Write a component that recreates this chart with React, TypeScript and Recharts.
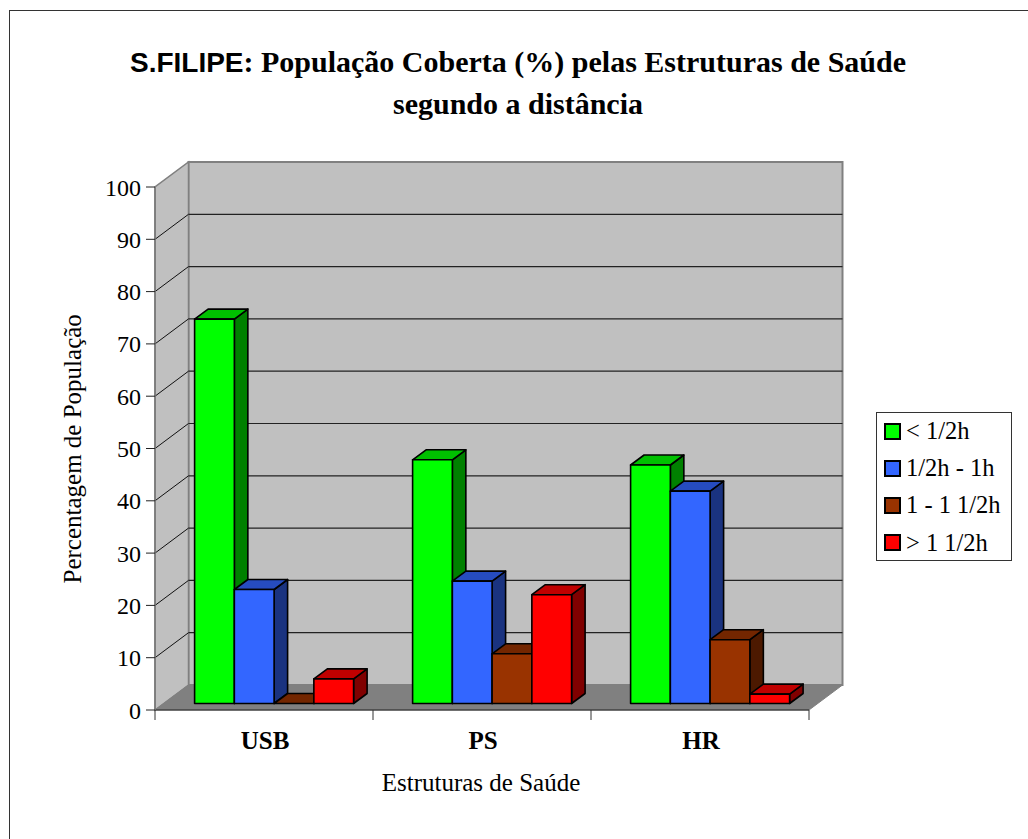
import React from 'react';
import { BarChart, Bar, XAxis, YAxis, CartesianGrid, ReferenceArea, Legend } from 'recharts';

const categories = ['USB', 'PS', 'HR'];
const under30 = [73.5, 46.6, 45.6];
const to1h = [21.8, 23.4, 40.6];
const to90 = [0, 9.5, 12.2];
const over90 = [4.7, 20.8, 1.8];
const yTicks = [0, 10, 20, 30, 40, 50, 60, 70, 80, 90, 100];
const data = categories.map((name, i) => ({
  name, a: under30[i], b: to1h[i], c: to90[i], d: over90[i],
}));

const SERIF = '"Liberation Serif", serif';
const WALL_DX = 33.5;
const WALL_DY = 25;
const BAR_DX = 13.5;
const BAR_DY = 10;
const FRONT_DX = 9.6;
const FRONT_DY = 6.5;

const Bar3D = (p: any) => {
  const { x, y, width, height, fill, sideFill, topFill } = p;
  const l = x + FRONT_DX;
  const r = l + width;
  const t = y - FRONT_DY;
  const b = t + height;
  const common = { stroke: '#000', strokeWidth: 1.6, strokeLinejoin: 'round' as const };
  return (
    <g>
      <polygon points={`${r},${t} ${r + BAR_DX},${t - BAR_DY} ${r + BAR_DX},${b - BAR_DY} ${r},${b}`} fill={sideFill} {...common} />
      <polygon points={`${l},${t} ${l + BAR_DX},${t - BAR_DY} ${r + BAR_DX},${t - BAR_DY} ${r},${t}`} fill={topFill} {...common} />
      <rect x={l} y={t} width={width} height={height} fill={fill} {...common} />
    </g>
  );
};

const Walls = (p: any) => {
  const { x, y, width, height } = p;
  const b = y + height;
  const r = x + width;
  return (
    <g>
      <rect x={x + WALL_DX} y={y - WALL_DY} width={width} height={height} fill="#C0C0C0" stroke="#808080" strokeWidth={2} />
      <polygon points={`${x},${b} ${x},${y} ${x + WALL_DX},${y - WALL_DY} ${x + WALL_DX},${b - WALL_DY}`} fill="#C0C0C0" stroke="#808080" strokeWidth={1.5} />
      <polygon points={`${x},${b} ${r},${b} ${r + WALL_DX},${b - WALL_DY} ${x + WALL_DX},${b - WALL_DY}`} fill="#808080" stroke="#808080" />
    </g>
  );
};

const GridLine = (p: any) => {
  const { x1, x2, y1 } = p;
  if (y1 <= 188 || y1 >= 709) return <g />;
  const yb = y1 - WALL_DY;
  return (
    <g>
      <line x1={x1} y1={y1} x2={x1 + WALL_DX} y2={yb} stroke="#111" strokeWidth={1} />
      <line x1={x1 + WALL_DX} y1={yb} x2={x2 + WALL_DX} y2={yb} stroke="#222" strokeWidth={1.2} />
    </g>
  );
};

const CategoryTick = (p: any) => {
  const { x, y, payload, index } = p;
  const half = 109;
  return (
    <g>
      <line x1={x - half} y1={710} x2={x - half} y2={720} stroke="#333" strokeWidth={1} />
      {index === categories.length - 1 && (
        <line x1={x + half} y1={710} x2={x + half} y2={720} stroke="#333" strokeWidth={1} />
      )}
      <text x={x + 1} y={y + 31} textAnchor="middle" fontFamily={SERIF} fontWeight="bold" fontSize={25} fill="#000">
        {payload.value}
      </text>
    </g>
  );
};

const LegendBox = ({ payload }: any) => (
  <div style={{ width: 134, height: 147, border: '1px solid #333', background: '#fff', position: 'relative', fontFamily: SERIF, fontSize: 24.5, color: '#000' }}>
    {(payload || []).map((e: any, i: number) => (
      <div key={e.value} style={{ position: 'absolute', left: 7, top: 5 + i * 37.2, height: 26, lineHeight: '26px', whiteSpace: 'nowrap', display: 'flex', alignItems: 'center' }}>
        <span style={{ display: 'inline-block', width: 13, height: 13, background: e.color, border: '2px solid #000', marginRight: 5 }} />
        <span>{e.value}</span>
      </div>
    ))}
  </div>
);

export default function App() {
  return (
    <div style={{ position: 'absolute', left: 0, top: 0, width: 1028, height: 839, background: '#fff', overflow: 'hidden' }}>
      <div style={{ position: 'absolute', left: 9, top: 10, width: 1100, height: 900, border: '1.5px solid #333' }} />
      <div style={{ position: 'absolute', left: 0, top: 41, width: 1036, textAlign: 'center', fontFamily: SERIF, fontWeight: 'bold', fontSize: 30, lineHeight: '41px', color: '#000', whiteSpace: 'nowrap' }}>
        <span style={{ fontFamily: '"Liberation Sans", sans-serif', fontSize: 28 }}>S.FILIPE</span>: População Coberta (%) pelas Estruturas de Saúde
        <br />segundo a distância
      </div>
      <div style={{ position: 'absolute', left: 0, top: 0 }}>
        <BarChart
          width={1028}
          height={839}
          data={data}
          margin={{ top: 187, right: 83, bottom: 0, left: 0 }}
          barSize={39.75}
          barGap={0}
          style={{ background: 'transparent' }}
        >
          <ReferenceArea y1={0} y2={100} shape={<Walls />} ifOverflow="visible" {...({ zIndex: -200 } as any)} />
          <CartesianGrid horizontal={GridLine as any} vertical={false} {...({ zIndex: -100 } as any)} />
          <XAxis
            dataKey="name"
            height={129}
            tick={<CategoryTick />}
            tickLine={false}
            interval={0}
            axisLine={{ stroke: '#222', strokeWidth: 1 }}
            label={{ value: 'Estruturas de Saúde', position: 'insideTop', offset: 63, fontFamily: SERIF, fontSize: 25, fill: '#000', dx: -1 }}
          />
          <YAxis
            width={155}
            domain={[0, 100]}
            ticks={yTicks}
            interval={0}
            tickSize={9}
            tickMargin={5}
            tick={{ fontFamily: SERIF, fontSize: 24, fill: '#000' }}
            tickLine={{ stroke: '#222' }}
            axisLine={{ stroke: '#777', strokeWidth: 1.5 }}
            label={{ value: 'Percentagem de População', angle: -90, position: 'insideLeft', offset: 72, dy: 135, fontFamily: SERIF, fontSize: 25, fill: '#000' }}
          />
          <Legend
            layout="vertical"
            align="right"
            verticalAlign="top"
            itemSorter={null as any}
            content={<LegendBox />}
            wrapperStyle={{ left: 876, top: 412, width: 136, right: 'auto' }}
          />
          <Bar dataKey="a" name="< 1/2h" fill="#00FF00" isAnimationActive={false}
            shape={(p: any) => <Bar3D {...p} fill="#00FF00" sideFill="#008000" topFill="#00C000" />} />
          <Bar dataKey="b" name="1/2h - 1h" fill="#3366FF" isAnimationActive={false}
            shape={(p: any) => <Bar3D {...p} fill="#3366FF" sideFill="#1A3380" topFill="#264CBF" />} />
          <Bar dataKey="c" name="1 - 1 1/2h" fill="#993300" isAnimationActive={false}
            shape={(p: any) => <Bar3D {...p} fill="#993300" sideFill="#4C1900" topFill="#732600" />} />
          <Bar dataKey="d" name="> 1 1/2h" fill="#FF0000" isAnimationActive={false}
            shape={(p: any) => <Bar3D {...p} fill="#FF0000" sideFill="#800000" topFill="#C00000" />} />
        </BarChart>
      </div>
    </div>
  );
}
